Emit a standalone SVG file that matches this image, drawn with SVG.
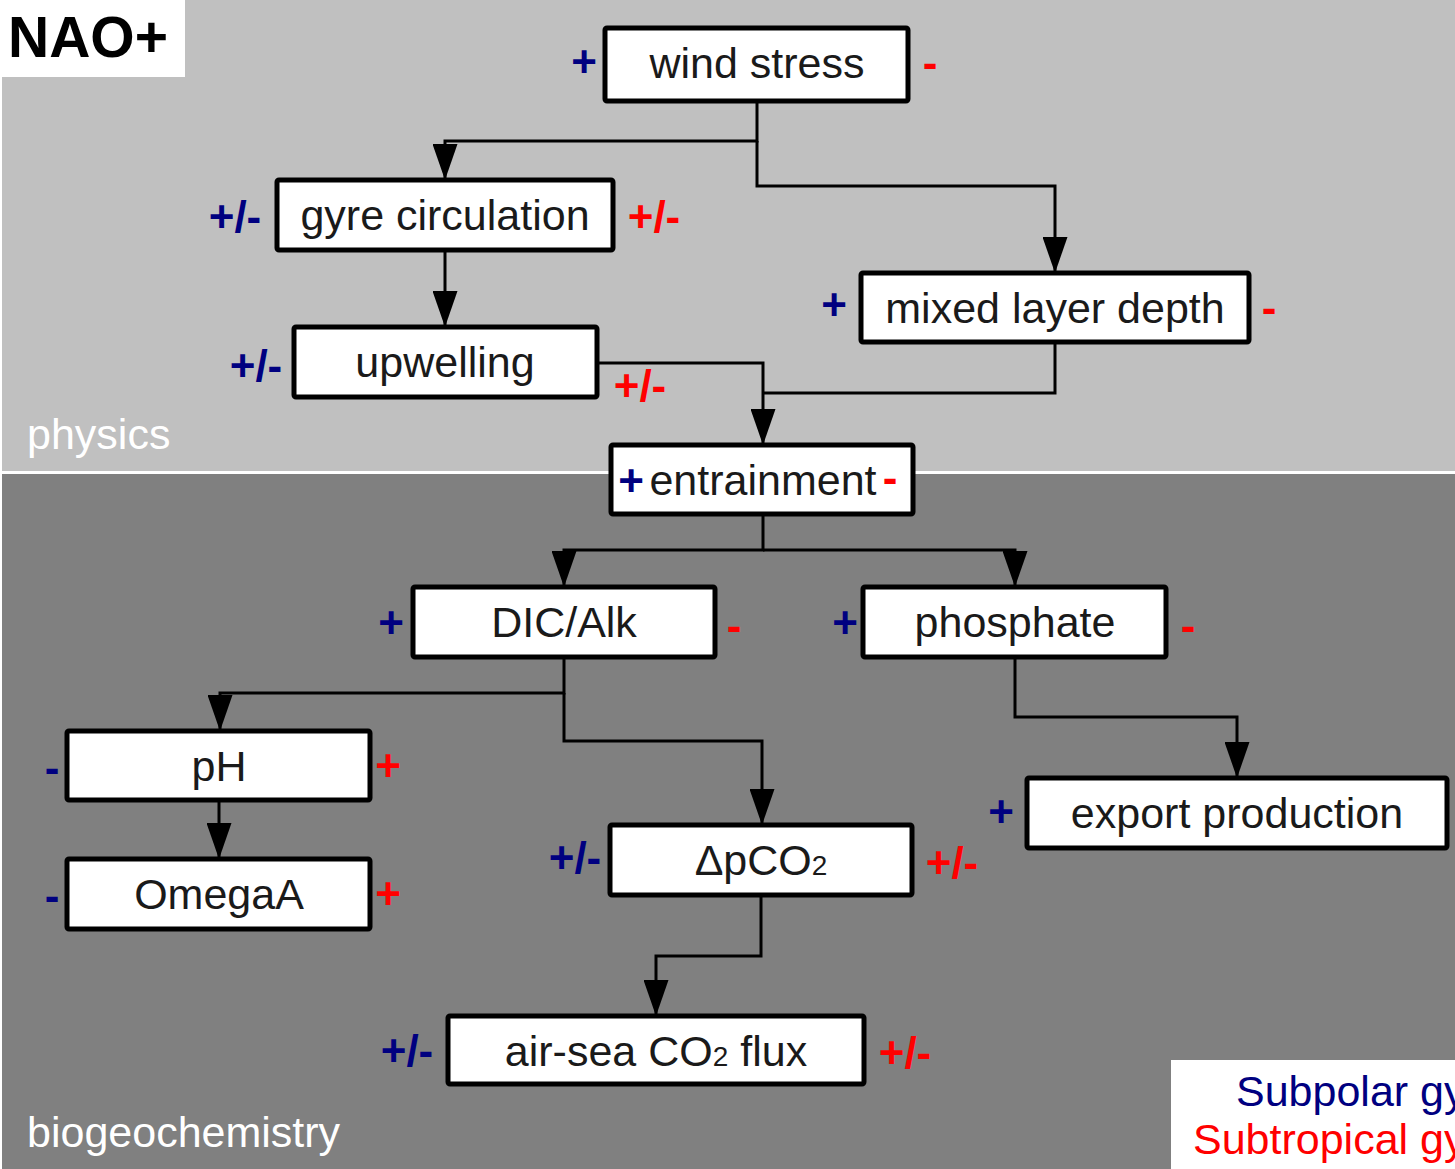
<svg xmlns="http://www.w3.org/2000/svg" width="1455" height="1169" viewBox="0 0 1455 1169">
<defs>
<marker id="arr" viewBox="0 -12.5 36 25" refX="36" refY="0" markerWidth="36" markerHeight="25" markerUnits="userSpaceOnUse" orient="auto">
<path d="M0,-12.5 L36,0 L0,12.5 z" fill="#000"/>
</marker>
<style>
.box{fill:#fff;stroke:#000;stroke-width:5}
.lbl{font-family:"Liberation Sans",Arial,sans-serif;font-size:43px;fill:#1a1a1a;text-anchor:middle}
.sg{font-family:"Liberation Sans",Arial,sans-serif;font-size:44px;font-weight:bold;text-anchor:middle}
.b{fill:#000080}
.r{fill:#ff0000}
.sec{font-family:"Liberation Sans",Arial,sans-serif;font-size:43px;fill:#fff}
.con{fill:none;stroke:#000;stroke-width:3}
</style>
</defs>
<rect x="0" y="0" width="1455" height="1169" fill="#fff"/>
<rect x="2" y="0" width="1453" height="471" fill="#c0c0c0"/>
<rect x="2" y="474" width="1453" height="695" fill="#808080"/>
<rect x="0" y="0" width="185" height="77" fill="#fff"/>
<text x="8" y="57" font-family="Liberation Sans,Arial,sans-serif" font-size="57" font-weight="bold" fill="#000">NAO+</text>
<text class="sec" x="27" y="449">physics</text>
<text class="sec" x="27" y="1147">biogeochemistry</text>
<g id="legend">
<rect x="1171" y="1060" width="284" height="109" fill="#fff"/>
<text x="1236" y="1106" font-family="Liberation Sans,Arial,sans-serif" font-size="43" fill="#000080">Subpolar gyre</text>
<text x="1193" y="1154" font-family="Liberation Sans,Arial,sans-serif" font-size="43" fill="#ff0000">Subtropical gyre</text>
</g>
<g id="connectors">
<path class="con" d="M757,101 V141 H445 V180" marker-end="url(#arr)"/>
<path class="con" d="M757,141 V186 H1055 V273" marker-end="url(#arr)"/>
<path class="con" d="M445,250 V327" marker-end="url(#arr)"/>
<path class="con" d="M597,363 H763 V445" marker-end="url(#arr)"/>
<path class="con" d="M1055,342 V393 H763"/>
<path class="con" d="M763,514 V550 H564 V587" marker-end="url(#arr)"/>
<path class="con" d="M763,550 H1015 V587" marker-end="url(#arr)"/>
<path class="con" d="M564,657 V693 H220 V731" marker-end="url(#arr)"/>
<path class="con" d="M564,693 V741 H762 V825" marker-end="url(#arr)"/>
<path class="con" d="M1015,657 V717 H1237 V778" marker-end="url(#arr)"/>
<path class="con" d="M219,800 V859" marker-end="url(#arr)"/>
<path class="con" d="M761,895 V956 H656 V1016" marker-end="url(#arr)"/>
</g>
<g id="wind-stress">
<rect class="box" x="605" y="28" width="303" height="73" rx="2"/>
<text class="lbl" x="757" y="78">wind stress</text>
<text class="sg b" x="584" y="77">+</text>
<text class="sg r" x="930" y="78">-</text>
</g>
<g id="gyre-circulation">
<rect class="box" x="277" y="180" width="336" height="70" rx="2"/>
<text class="lbl" x="445" y="230">gyre circulation</text>
<text class="sg b" x="235" y="232">+/-</text>
<text class="sg r" x="654" y="232">+/-</text>
</g>
<g id="mixed-layer-depth">
<rect class="box" x="861" y="273" width="388" height="69" rx="2"/>
<text class="lbl" x="1055" y="323">mixed layer depth</text>
<text class="sg b" x="834" y="320">+</text>
<text class="sg r" x="1269" y="323">-</text>
</g>
<g id="upwelling">
<rect class="box" x="294" y="327" width="303" height="70" rx="2"/>
<text class="lbl" x="445" y="377">upwelling</text>
<text class="sg b" x="256" y="381">+/-</text>
<text class="sg r" x="640" y="401">+/-</text>
</g>
<g id="entrainment">
<rect class="box" x="611" y="445" width="302" height="69" rx="2"/>
<text class="lbl" x="763" y="495">entrainment</text>
<text class="sg b" x="631" y="496">+</text>
<text class="sg r" x="890" y="493">-</text>
</g>
<g id="dic-alk">
<rect class="box" x="413" y="587" width="302" height="70" rx="2"/>
<text class="lbl" x="564" y="637">DIC/Alk</text>
<text class="sg b" x="391" y="638">+</text>
<text class="sg r" x="734" y="641">-</text>
</g>
<g id="phosphate">
<rect class="box" x="863" y="587" width="303" height="70" rx="2"/>
<text class="lbl" x="1015" y="637">phosphate</text>
<text class="sg b" x="845" y="638">+</text>
<text class="sg r" x="1188" y="641">-</text>
</g>
<g id="ph">
<rect class="box" x="67" y="731" width="303" height="69" rx="2"/>
<text class="lbl" x="219" y="781">pH</text>
<text class="sg b" x="52" y="783">-</text>
<text class="sg r" x="388" y="781">+</text>
</g>
<g id="omegaa">
<rect class="box" x="67" y="859" width="303" height="70" rx="2"/>
<text class="lbl" x="219" y="909">OmegaA</text>
<text class="sg b" x="52" y="911">-</text>
<text class="sg r" x="388" y="909">+</text>
</g>
<g id="dpco2">
<rect class="box" x="610" y="825" width="302" height="70" rx="2"/>
<text class="lbl" x="761" y="875">ΔpCO<tspan font-size="28">2</tspan></text>
<text class="sg b" x="575" y="873">+/-</text>
<text class="sg r" x="952" y="878">+/-</text>
</g>
<g id="export-production">
<rect class="box" x="1027" y="778" width="420" height="70" rx="2"/>
<text class="lbl" x="1237" y="828">export production</text>
<text class="sg b" x="1001" y="827">+</text>
</g>
<g id="air-sea-co2-flux">
<rect class="box" x="448" y="1016" width="416" height="68" rx="2"/>
<text class="lbl" x="656" y="1066">air-sea CO<tspan font-size="28">2</tspan> flux</text>
<text class="sg b" x="407" y="1066">+/-</text>
<text class="sg r" x="905" y="1068">+/-</text>
</g>
</svg>
